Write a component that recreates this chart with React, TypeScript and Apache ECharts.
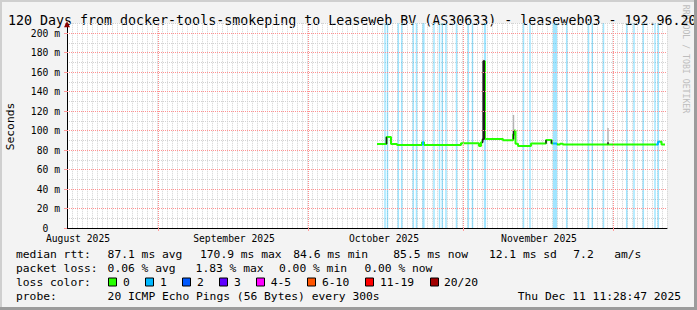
import React, { useEffect, useRef } from 'react';
import * as echarts from 'echarts';

// ---------- data ----------
const TITLE = '120 Days from docker-tools-smokeping to Leaseweb BV (AS30633) - leaseweb03 - 192.96.20';
const Y_AXIS_NAME = 'Seconds';
const WATERMARK = 'RRDTOOL / TOBI OETIKER';
const Y_MAX = 210;
const X_DAYS = 120;
const yMajorTicks = [0, 20, 40, 60, 80, 100, 120, 140, 160, 180, 200];
const monthStartDays = [18.2, 48.2, 79.2, 109.2];
const monthLabelDays = [2.2, 33.4, 63.4, 94.4];
const monthLabels = ['August 2025', 'September 2025', 'October 2025', 'November 2025'];

// median rtt (ms), step values: each holds until the next day mark
const medianDays = [62.0, 63.9, 64.8, 66.0, 71.0, 71.4, 78.8, 82.4, 82.8, 83.1, 83.3, 83.6, 87.2, 89.2, 89.5, 89.7, 90.2, 92.8, 95.8, 96.9, 98.0, 98.6, 99.2, 118.2, 118.9, 119.6];
const medianMs = [86.2, 93.3, 86.2, 85.2, 88.0, 85.2, 86.8, 84.1, 88.0, 91.0, 170.9, 91.2, 90.0, 96.0, 100.0, 86.5, 84.2, 86.6, 90.3, 86.6, 85.6, 86.4, 85.6, 88.4, 85.6, 85.6];

// periods where median is coloured by 1/20 loss
const medianLossStart = [71.0, 83.5, 97.3, 117.9];
const medianLossEnd = [71.4, 83.7, 98.0, 118.5];
// period where the median is hidden under dense (dark) smoke
const medianDarkStart = [83.05];
const medianDarkEnd = [83.5];

// loss bars (days)
const lossStart = [63.45, 63.95, 66.11, 66.79, 69.11, 69.75, 71.08, 73.25, 74.35, 74.91, 75.65, 77.75, 80.11, 80.95, 83.38, 91.15, 92.45, 97.18, 99.79, 104.15, 104.91, 107.15, 111.79, 113.25, 115.11, 117.45, 118.11];
const lossEnd = [63.75, 64.25, 66.41, 67.09, 69.41, 70.05, 71.52, 73.55, 74.65, 75.21, 75.95, 78.05, 80.41, 81.25, 83.82, 91.45, 92.75, 98.02, 100.09, 104.45, 105.21, 107.45, 112.09, 113.55, 115.41, 117.75, 118.41];

// smoke (ping spread)
const smokeDays = [63.9, 83.3, 89.3, 95.8, 96.9, 108.2];
const smokeOuterLow = [86.0, 91.0, 90.0, 86.6, 86.6, 86.0];
const smokeOuterHigh = [94.0, 172.5, 116.0, 90.3, 90.3, 102.6];
const smokeCoreLow = [86.0, 91.0, 91.0, 86.6, 86.6, 86.0];
const smokeCoreHigh = [93.3, 171.5, 100.0, 90.3, 90.3, 88.0];

// legend
const rttLabel = 'median rtt:';
const rttStats = ['87.1 ms avg', '170.9 ms max', '84.6 ms min', '85.5 ms now', '12.1 ms sd', '7.2', 'am/s'];
const lossLabel = 'packet loss:';
const lossStats = ['0.06 % avg', '1.83 % max', '0.00 % min', '0.00 % now'];
const lossColorLabel = 'loss color:';
const lossColorLabels = ['0', '1', '2', '3', '4-5', '6-10', '11-19', '20/20'];
const lossColors = ['#26ff00', '#00b8ff', '#0059ff', '#5e00ff', '#ff00ff', '#ff5500', '#ff0000', '#a10000'];
const probeLabel = 'probe:';
const probeText = '20 ICMP Echo Pings (56 Bytes) every 300s';
const timestamp = 'Thu Dec 11 11:28:47 2025';

// ---------- layout ----------
const W = 697;
const H = 310;
const MONO = 'DejaVu Sans Mono';
const rttX = [107.6, 200, 293.3, 393.3, 488.9, 573.3, 614.2];
const lossX = [107.6, 195.6, 279, 364.4];
const boxX = [108.5, 145.5, 182.5, 219.5, 256.5, 307.5, 365.5, 430.5];
const boxLabelX = [123, 160, 197, 234, 270.7, 322, 380, 444];
const rowY = [254.5, 268.5, 282.5, 296.5];

function txt(x: number, y: number, text: string, size: number, opts: any = {}) {
  return {
    type: 'text',
    x,
    y,
    rotation: opts.rotation || 0,
    silent: true,
    style: {
      text,
      fill: opts.fill || '#000',
      fontSize: size,
      fontFamily: MONO,
      align: opts.align || 'left',
      verticalAlign: 'middle',
    },
  };
}

const smokeItem = (fill: string) => (_p: any, api: any) => {
  const top = api.coord([api.value(0), api.value(2)]);
  const bottom = api.coord([api.value(0), api.value(1)]);
  return {
    type: 'rect',
    shape: { x: top[0] - 0.7, y: top[1], width: 1.4, height: bottom[1] - top[1] },
    style: { fill },
  };
};

export default function App() {
  const ref = useRef<HTMLDivElement>(null);
  useEffect(() => {
    if (!ref.current) return;
    const chart = echarts.init(ref.current, undefined, { renderer: 'svg' });

    const legendRow1 = [txt(16, rowY[0], rttLabel, 11.3), ...rttStats.map((s, i) => txt(rttX[i], rowY[0], s, 11.3))];
    const legendRow2 = [txt(16, rowY[1], lossLabel, 11.3), ...lossStats.map((s, i) => txt(lossX[i], rowY[1], s, 11.3))];
    const legendRow3: any[] = [txt(16, rowY[2], lossColorLabel, 11.3)];
    lossColorLabels.forEach((l, i) => {
      legendRow3.push({
        type: 'rect',
        silent: true,
        shape: { x: boxX[i], y: rowY[2] - 4.5, width: 8, height: 8 },
        style: { fill: lossColors[i], stroke: '#000', lineWidth: 1 },
      });
      legendRow3.push(txt(boxLabelX[i], rowY[2], l, 11.3));
    });
    const legendRow4 = [
      txt(16, rowY[3], probeLabel, 11.3),
      txt(107.6, rowY[3], probeText, 11.3),
      txt(681, rowY[3], timestamp, 11.3, { align: 'right' }),
    ];

    const pieces = [
      ...medianLossStart.map((s, i) => ({ gte: s, lt: medianLossEnd[i], color: lossColors[1] })),
      ...medianDarkStart.map((s, i) => ({ gte: s, lt: medianDarkEnd[i], color: '#1e1e1e' })),
    ];

    const option: any = {
      animation: false,
      backgroundColor: '#f3f3f3',
      grid: {
        left: 67,
        right: 30,
        top: 23.25,
        bottom: 82,
        show: true,
        backgroundColor: '#ffffff',
        borderWidth: 0,
      },
      xAxis: [
        {
          type: 'value',
          min: 0,
          max: X_DAYS,
          interval: 1,
          axisLine: { show: true, lineStyle: { color: '#000', width: 1 } },
          axisTick: { show: false },
          axisLabel: { show: false },
          splitLine: { show: true, lineStyle: { color: '#d2d2d2', type: [1, 1], width: 1 } },
        },
        {
          type: 'value',
          min: 0,
          max: X_DAYS,
          position: 'bottom',
          axisLine: { show: false },
          splitLine: { show: false },
          axisTick: { show: true, customValues: monthStartDays, length: 3, lineStyle: { color: '#ff9999' } },
          axisLabel: {
            show: true,
            customValues: monthLabelDays,
            margin: 5,
            fontFamily: MONO,
            fontSize: 9.7,
            color: '#000',
            formatter: (v: number) => {
              let best = 0;
              monthLabelDays.forEach((d, i) => {
                if (Math.abs(d - v) < Math.abs(monthLabelDays[best] - v)) best = i;
              });
              return monthLabels[best];
            },
          },
        },
      ],
      yAxis: [
        {
          type: 'value',
          min: 0,
          max: Y_MAX,
          interval: 10,
          axisLine: { show: true, lineStyle: { color: '#000', width: 1 } },
          axisTick: { show: false },
          axisLabel: {
            margin: 7,
            fontFamily: MONO,
            fontSize: 9.7,
            color: '#000',
            formatter: (v: number) => {
              if (v % 20 !== 0 || v > 200) return '';
              return v === 0 ? '0\u00a0\u00a0' : v + ' m';
            },
          },
          splitLine: { show: true, lineStyle: { color: '#d2d2d2', type: [1, 1], width: 1 } },
        },
        {
          type: 'value',
          min: 0,
          max: Y_MAX,
          position: 'left',
          axisLine: { show: false },
          splitLine: { show: false },
          axisLabel: { show: false },
          axisTick: { show: true, customValues: yMajorTicks, length: 3, lineStyle: { color: '#ff9999' } },
        },
      ],
      visualMap: [
        {
          show: false,
          type: 'piecewise',
          seriesIndex: 2,
          dimension: 0,
          pieces,
          outOfRange: { color: lossColors[0] },
        },
      ],
      series: [
        {
          type: 'line',
          name: 'grid',
          data: [],
          z: 1,
          silent: true,
          markArea: {
            silent: true,
            itemStyle: { color: lossColors[1], opacity: 0.37 },
            data: lossStart.map((s, i) => [{ xAxis: s }, { xAxis: lossEnd[i] }]),
          },
          markLine: {
            silent: true,
            symbol: 'none',
            label: { show: false },
            lineStyle: { color: '#ff9090', type: [1, 1], width: 1 },
            data: [
              ...monthStartDays.map((d) => ({ xAxis: d })),
              ...yMajorTicks.filter((v) => v > 0).map((v) => ({ yAxis: v })),
            ],
          },
          markPoint: {
            silent: true,
            label: { show: false },
            itemStyle: { color: '#8b0000' },
            data: [
              { coord: [0, Y_MAX - 1], symbol: 'triangle', symbolSize: [6, 6] },
              { coord: [X_DAYS + 0.65, 0], symbol: 'triangle', symbolRotate: -90, symbolSize: [6, 6] },
            ],
          },
        },
        {
          type: 'custom',
          name: 'smoke',
          z: 2,
          silent: true,
          renderItem: smokeItem('#b4b4b4'),
          encode: { x: 0, y: [1, 2] },
          data: smokeDays.map((d, i) => [d, smokeOuterLow[i], smokeOuterHigh[i]]),
        },
        {
          type: 'line',
          name: 'median rtt',
          z: 3,
          step: 'end',
          showSymbol: false,
          silent: true,
          lineStyle: { width: 2 },
          data: medianDays.map((d, i) => [d, medianMs[i]]),
        },
        {
          type: 'custom',
          name: 'smoke core',
          z: 4,
          silent: true,
          renderItem: smokeItem('#1e1e1e'),
          encode: { x: 0, y: [1, 2] },
          data: smokeDays.map((d, i) => [d, smokeCoreLow[i], smokeCoreHigh[i]]),
        },
      ],
      graphic: [
        txt(686, 59, WATERMARK, 8.2, { rotation: -Math.PI / 2, align: 'center', fill: '#bdbdbd' }),
        txt(8, 20, TITLE, 13.3),
        txt(10.5, 126.5, Y_AXIS_NAME, 11.3, { rotation: Math.PI / 2, align: 'center' }),
        ...legendRow1,
        ...legendRow2,
        ...legendRow3,
        ...legendRow4,
        { type: 'rect', silent: true, shape: { x: 0, y: 0, width: W, height: 2 }, style: { fill: '#cfcfcf' } },
        { type: 'rect', silent: true, shape: { x: 0, y: 0, width: 2, height: H }, style: { fill: '#cfcfcf' } },
        { type: 'rect', silent: true, shape: { x: W - 3, y: 0, width: 3, height: H }, style: { fill: '#9c9c9c' } },
        { type: 'rect', silent: true, shape: { x: 0, y: H - 3, width: W, height: 3 }, style: { fill: '#9c9c9c' } },
      ],
    };
    chart.setOption(option);
    return () => chart.dispose();
  }, []);
  return (
    <div
      ref={ref}
      style={{ position: 'absolute', left: 0, top: 0, width: W, height: H }}
    />
  );
}
